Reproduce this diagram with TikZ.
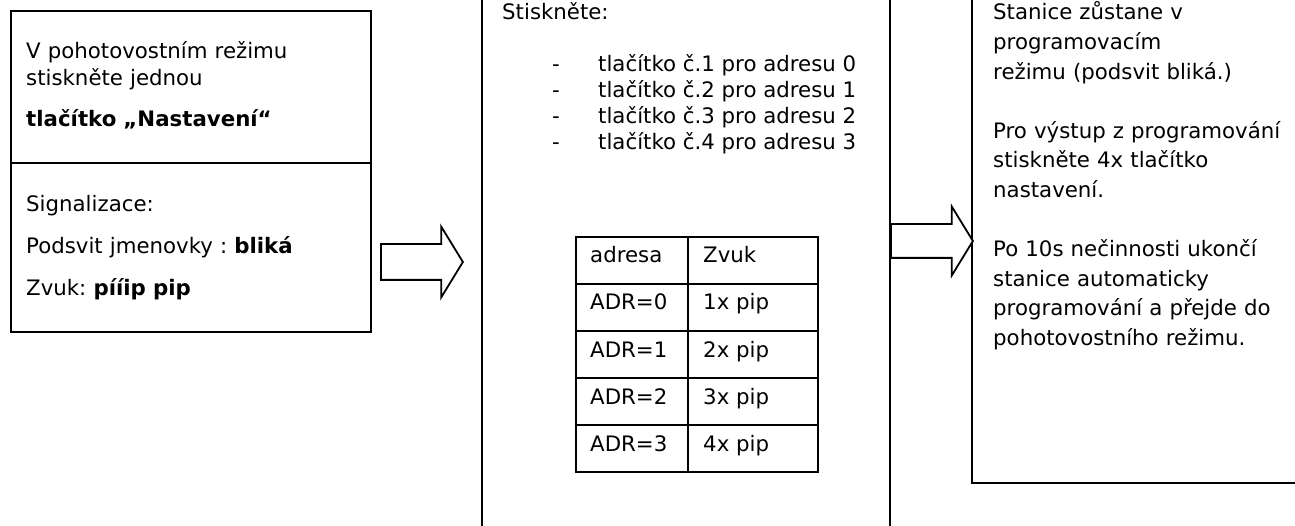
\documentclass[tikz,border=0pt]{standalone}
\usepackage{fontspec}
\setmainfont{DejaVu Sans}
\usetikzlibrary{shapes.arrows, positioning}
\tikzset{
	box/.style        = {draw, line width=1.8pt, anchor=north west,
		inner sep=0pt, outer sep=0pt},
	cell/.style       = {box, minimum height=47pt},
	txt/.style        = {anchor=base west, inner sep=0pt,
		font=\fontsize{21.3}{27}\selectfont\frenchspacing},
	para/.style       = {txt, align=left, text width=330pt},
	blockarrow/.style = {single arrow, draw, line width=1.8pt, fill=white,
		inner xsep=0pt, minimum height=82pt, single arrow head extend=17.5pt,
		single arrow tip angle=117, single arrow head indent=0pt, anchor=tail},
}
\begin{document}
\begin{tikzpicture}[x=1pt, y=-1pt]
	\useasboundingbox (0,0) rectangle (1295,526);
	\clip (0,0) rectangle (1295,526);
	% first step
	\node[box, minimum width=360pt, minimum height=152pt] (press) at (11,11) {};
	\node[box, minimum width=360pt, minimum height=169pt] (signal) at (11,163) {};
	\node[para] (presstext) at (26,59) {
		V pohotovostním režimu\\stiskněte jednou\\[14pt]
		\textbf{tlačítko „Nastavení“}
	};
	\node[para] (signaltext) at (26,212) {
		Signalizace:\\[15pt]
		Podsvit jmenovky : \textbf{bliká}\\[15pt]
		Zvuk: \textbf{pííip pip}
	};
	
	% second step
	\node[box, line width=2.2pt, minimum width=408pt, minimum height=600pt] (choose) at (482,-30) {};
	\node[txt] (choosetext) at (502,20) {Stiskněte:};
	\foreach \i in {1,...,4}{
		\pgfmathtruncatemacro{\a}{\i-1}
		\node[txt] (dash\i) at (552,{72+25.7*(\i-1)}) {-};
		\node[txt] (item\i) at (598,{72+25.7*(\i-1)}) {tlačítko č.\i{} pro adresu \a};
	}
	\foreach \r/\a/\z in {0/adresa/Zvuk, 1/ADR=0/1x pip, 2/ADR=1/2x pip,
		3/ADR=2/3x pip, 4/ADR=3/4x pip}{
		\node[cell, minimum width=112pt] (adr\r) at (576,{237+47*\r}) {};
		\node[cell, minimum width=130pt, anchor=west, right=0pt of adr\r] (zvuk\r) {};
		\node[txt] (adrtext\r) at ([xshift=14pt, yshift=-26pt]adr\r.north west) {\a};
		\node[txt] (zvuktext\r) at ([xshift=15pt, yshift=-26pt]zvuk\r.north west) {\z};
	}
	
	% third step
	\node[box, minimum width=400pt, minimum height=513pt] (stay) at (972,-30) {};
	\node[para, font=\fontsize{21.3}{29.6}\selectfont] (staytext) at (993,20) {
		Stanice zůstane v\\programovacím\\režimu (podsvit bliká.)\\[29.6pt]
		Pro výstup z programování\\stiskněte 4x tlačítko\\nastavení.\\[29.6pt]
		Po 10s nečinnosti ukončí\\stanice automaticky\\programování a přejde do\\pohotovostního režimu.
	};
	
	% arrows between the steps
	\node[blockarrow, inner ysep=17pt, minimum width=69pt] (go1) at (380,262) {};
	\node[blockarrow, inner ysep=16pt, minimum width=67pt] (go2) at (890,241) {};
\end{tikzpicture}
\end{document}
